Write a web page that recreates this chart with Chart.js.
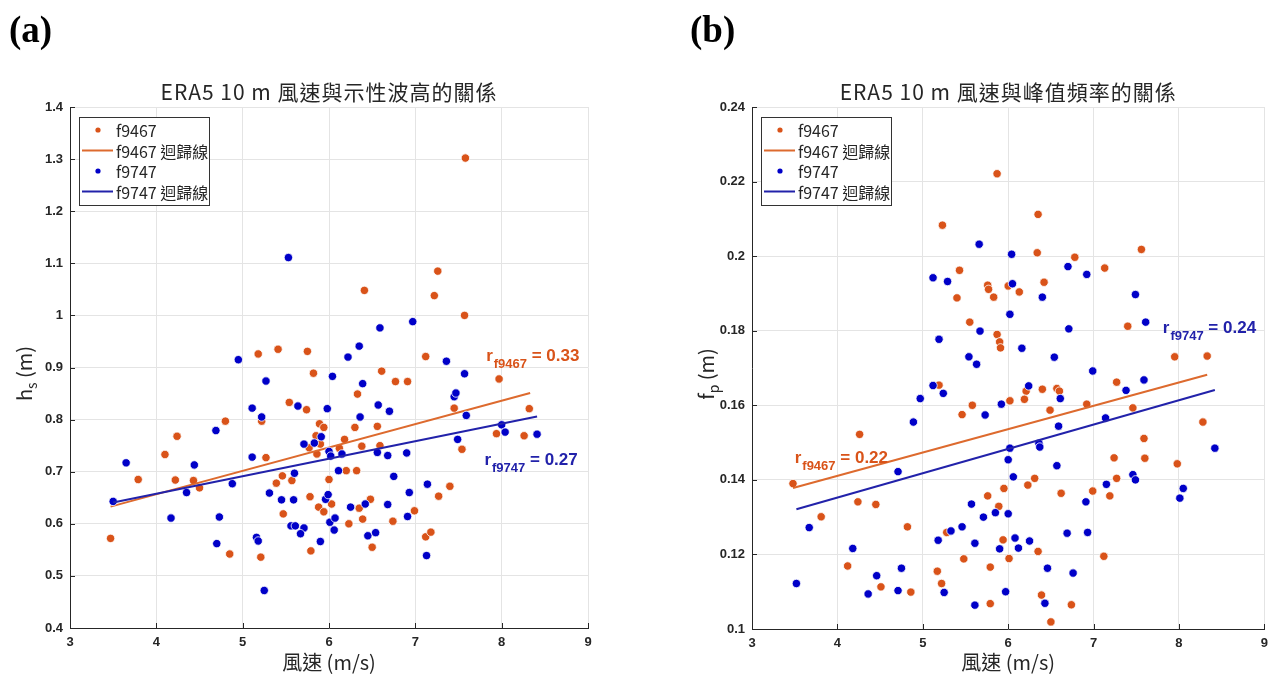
<!DOCTYPE html>
<html>
<head>
<meta charset="utf-8">
<script src="https://cdn.jsdelivr.net/npm/chart.js@4.4.1/dist/chart.umd.min.js"></script>
<style>
  html, body { margin: 0; padding: 0; background: #fff; }
  #wrap { position: relative; width: 1275px; height: 675px; }
  canvas { position: absolute; left: 0; top: 0; }
</style>
</head>
<body>
<div id="wrap">
  <canvas id="chartA" width="1275" height="675"></canvas>
  <canvas id="chartB" width="1275" height="675"></canvas>
</div>
<script>
// ---- (a) wind speed vs significant wave height ----
const windA_f9467 = [7.58,7.26,6.41,7.22,7.57, 5.18,5.41,5.75,5.54,5.74,5.22,4.80,4.24,4.10,3.79,4.22,4.43,4.50,5.27,5.46,5.39,5.57,5.47,5.78,
  3.47,4.85,5.21,5.79,5.88,5.94,6.00,6.03,6.23,6.35,6.39,6.48,6.50,6.74,6.99,7.12,7.18,7.27,7.40,
  7.12,7.97,5.82,6.61,6.77,6.91,6.33,7.45,8.32,5.89,5.94,6.30,6.56,7.94,8.26,7.54,5.85,5.90,5.77,6.18,6.38,6.59,6.12,5.86,6.20,6.32];
const hsA_f9467 = [1.302,1.085,1.048,1.038,1.000, 0.926,0.935,0.931,0.833,0.819,0.797,0.797,0.768,0.733,0.685,0.684,0.683,0.669,0.727,0.692,0.678,0.683,0.619,0.652,
  0.572,0.542,0.536,0.548,0.632,0.623,0.685,0.638,0.600,0.630,0.609,0.647,0.555,0.605,0.625,0.575,0.584,0.653,0.672,
  0.921,0.878,0.889,0.893,0.873,0.873,0.849,0.822,0.821,0.792,0.785,0.785,0.787,0.773,0.769,0.743,0.769,0.753,0.746,0.762,0.749,0.750,0.745,0.734,0.702,0.702];
const windA_f9747 = [5.53,6.97, 4.95,5.27,5.64,5.11,5.22,4.69,3.65,4.44,4.35,4.88,5.11,5.71,5.60,5.31,5.45,5.59,3.50,4.17,4.73,
  4.70,5.16,5.18,5.25,5.56,5.61,5.71,5.67,5.90,5.96,5.99,6.01,6.07,6.06,6.25,6.42,6.45,6.54,6.68,6.91,6.93,7.13,7.14,
  6.59,6.35,6.22,7.36,7.57,6.04,6.39,7.45,7.47,5.98,6.57,6.70,6.36,7.59,8.00,8.04,8.41,7.49,5.91,5.83,6.00,6.02,6.15,6.56,6.68,6.90,6.11,6.75];
const hsA_f9747 = [1.111,0.988, 0.915,0.874,0.826,0.822,0.805,0.779,0.717,0.713,0.660,0.677,0.728,0.753,0.697,0.659,0.646,0.646,0.643,0.611,0.613,
  0.562,0.574,0.567,0.472,0.596,0.596,0.592,0.581,0.566,0.647,0.656,0.603,0.611,0.588,0.632,0.638,0.577,0.583,0.637,0.614,0.660,0.539,0.676,
  0.976,0.941,0.920,0.912,0.888,0.883,0.869,0.844,0.851,0.821,0.828,0.816,0.805,0.808,0.790,0.776,0.772,0.762,0.767,0.755,0.739,0.730,0.734,0.737,0.731,0.736,0.702,0.691];
// regression line end points
const fitA_x_f9467 = [3.47, 8.33];
const fitA_y_f9467 = [0.633, 0.851];
const fitA_x_f9747 = [3.50, 8.41];
const fitA_y_f9747 = [0.641, 0.806];
const rA = ['0.33', '0.27'];

// ---- (b) wind speed vs peak frequency ----
const windB_f9467 = [5.87,6.35,5.23,6.34,6.78,7.56,7.13,5.43,5.76,5.77,6.00,6.42,5.40,5.83,6.13,
  7.40,5.87,5.90,5.91,7.95,8.33,7.27,6.21,6.40,6.57,6.60,6.02,6.19,6.92,7.46,6.49,8.28,7.59,7.24,7.60,7.98,6.31,7.27,5.95,6.23,6.62,6.99,7.19,5.76,
  5.55,5.19,5.58,5.46,4.26,3.48,
  3.81,4.24,4.45,4.82,4.12,4.51,4.86,5.28,5.48,5.17,5.22,5.89,5.94,6.01,5.79,6.35,5.79,6.39,6.50,6.74,7.12];
const fpB_f9467 = [0.2221,0.2112,0.2083,0.2009,0.1997,0.2018,0.1968,0.1962,0.1922,0.1911,0.1920,0.1930,0.1888,0.1890,0.1904,
  0.1812,0.1790,0.1770,0.1754,0.1730,0.1732,0.1662,0.1638,0.1643,0.1645,0.1638,0.1612,0.1616,0.1603,0.1593,0.1587,0.1555,0.1511,0.1459,0.1458,0.1443,0.1404,0.1404,0.1377,0.1386,0.1364,0.1370,0.1357,0.1357,
  0.1823,0.1654,0.1600,0.1575,0.1522,0.1390,
  0.1301,0.1341,0.1334,0.1274,0.1169,0.1113,0.1099,0.1259,0.1188,0.1155,0.1122,0.1329,0.1239,0.1189,0.1166,0.1208,0.1068,0.1091,0.1019,0.1065,0.1195];
const windB_f9747 = [5.12,5.66,6.04,6.70,6.92,5.29,6.05,6.40,7.49,
  6.02,5.67,6.71,7.61,6.16,6.54,5.63,6.99,7.59,7.38,6.24,6.61,5.92,5.73,7.14,6.59,6.02,6.36,6.37,8.42,6.00,6.57,6.06,7.46,7.49,7.15,8.05,8.01,
  5.19,5.54,5.12,5.24,4.97,4.89,4.71,
  3.67,3.52,4.18,4.46,4.36,4.75,4.71,5.18,5.33,5.46,5.25,5.57,5.71,5.85,6.00,5.61,5.90,6.08,6.12,6.25,6.46,6.76,5.61,5.97,6.43,6.69,6.93,6.91];
const fpB_f9747 = [0.1942,0.2032,0.2005,0.1972,0.1951,0.1932,0.1926,0.1890,0.1897,
  0.1844,0.1799,0.1805,0.1823,0.1753,0.1729,0.1710,0.1692,0.1668,0.1640,0.1652,0.1618,0.1603,0.1574,0.1566,0.1544,0.1485,0.1498,0.1488,0.1485,0.1454,0.1438,0.1408,0.1414,0.1400,0.1388,0.1377,0.1351,
  0.1777,0.1730,0.1653,0.1632,0.1618,0.1555,0.1422,
  0.1272,0.1122,0.1216,0.1143,0.1094,0.1163,0.1103,0.1238,0.1263,0.1274,0.1098,0.1335,0.1300,0.1312,0.1309,0.1230,0.1215,0.1244,0.1217,0.1236,0.1163,0.1150,0.1064,0.1100,0.1069,0.1257,0.1259,0.1341];
const fitB_x_f9467 = [3.48, 8.33];
const fitB_y_f9467 = [0.1378, 0.1682];
const fitB_x_f9747 = [3.52, 8.42];
const fitB_y_f9747 = [0.1321, 0.1641];
const rB = ['0.22', '0.24'];

const seriesNames = ['f9467', 'f9747'];
const fitSuffix = ' 迴歸線';

const ORANGE = '#D95319';
const ORANGE_LINE = '#DD6A2E';
const BLUE = '#0000C8';
const BLUE_LINE = '#2222AA';
const INK = '#262626';
const CJK = '"Noto Sans CJK TC", "Noto Sans", sans-serif';
const SANS = '"Liberation Sans", Arial, sans-serif';

function pairs(xs, ys) {
  return xs.map((v, i) => ({ x: v, y: ys[i] }));
}

// rotated axis title with a subscript, e.g. h_s (m)
function drawYTitle(ctx, cx, cy, main, sub, rest) {
  ctx.save();
  ctx.translate(cx, cy);
  ctx.rotate(-Math.PI / 2);
  ctx.fillStyle = INK;
  ctx.textBaseline = 'alphabetic';
  ctx.textAlign = 'left';
  const big = '20px ' + CJK, small = '14px ' + CJK;
  ctx.font = big; const w1 = ctx.measureText(main).width; const w3 = ctx.measureText(rest).width;
  ctx.font = small; const w2 = ctx.measureText(sub).width;
  let x0 = -(w1 + w2 + w3) / 2;
  ctx.font = big; ctx.fillText(main, x0, 6);
  ctx.font = small; ctx.fillText(sub, x0 + w1, 11);
  ctx.font = big; ctx.fillText(rest, x0 + w1 + w2, 6);
  ctx.restore();
}

// r_{name} = value note
function drawR(ctx, px, py, sub, val, color) {
  ctx.fillStyle = color;
  ctx.textAlign = 'left';
  ctx.textBaseline = 'alphabetic';
  ctx.font = 'bold 17px ' + SANS;
  ctx.fillText('r', px, py);
  let cx = px + ctx.measureText('r').width + 1;
  ctx.font = 'bold 13px ' + SANS;
  ctx.fillText(sub, cx, py + 7);
  cx += ctx.measureText(sub).width;
  ctx.font = 'bold 17px ' + SANS;
  ctx.fillText(' = ' + val, cx, py);
}

const decor = {
  id: 'decor',
  afterDraw(chart, args, o) {
    const { ctx, chartArea: a, scales: { x, y } } = chart;
    ctx.save();

    // inward tick marks on the left and bottom axes
    ctx.strokeStyle = INK;
    ctx.lineWidth = 1;
    ctx.beginPath();
    x.ticks.forEach(t => {
      const px = Math.round(x.getPixelForValue(t.value)) + 0.5;
      ctx.moveTo(px, a.bottom); ctx.lineTo(px, a.bottom - 5);
    });
    y.ticks.forEach(t => {
      const py = Math.round(y.getPixelForValue(t.value)) + 0.5;
      ctx.moveTo(a.left, py); ctx.lineTo(a.left + 5, py);
    });
    ctx.stroke();

    const midX = (a.left + a.right) / 2;

    // panel letter
    ctx.fillStyle = '#000';
    ctx.font = 'bold 37px "Liberation Serif", "Times New Roman", serif';
    ctx.textAlign = 'left';
    ctx.textBaseline = 'alphabetic';
    ctx.fillText(o.panel, o.panelX, 42);

    // title
    ctx.fillStyle = INK;
    ctx.font = '21px ' + CJK;
    ctx.letterSpacing = '1px';
    ctx.textAlign = 'center';
    ctx.textBaseline = 'middle';
    ctx.fillText(o.title, midX, 92);
    ctx.letterSpacing = '0px';

    // x axis title
    ctx.font = '20px ' + CJK;
    ctx.fillText(o.xTitle, midX, 662);

    // y axis title
    drawYTitle(ctx, a.left - 44, (a.top + a.bottom) / 2 + 6, o.yTitle[0], o.yTitle[1], o.yTitle[2]);

    // legend box
    const lx = a.left + 9, ly = a.top + 10, lw = 130, lh = 88;
    ctx.fillStyle = '#fff';
    ctx.fillRect(lx, ly, lw, lh);
    ctx.strokeStyle = '#333';
    ctx.lineWidth = 1;
    ctx.strokeRect(lx + 0.5, ly + 0.5, lw, lh);
    const rows = [
      { kind: 'dot', color: ORANGE, text: seriesNames[0] },
      { kind: 'line', color: ORANGE_LINE, text: seriesNames[0] + fitSuffix },
      { kind: 'dot', color: BLUE, text: seriesNames[1] },
      { kind: 'line', color: BLUE_LINE, text: seriesNames[1] + fitSuffix }
    ];
    ctx.font = '16px ' + CJK;
    ctx.textAlign = 'left';
    ctx.textBaseline = 'middle';
    rows.forEach((r, i) => {
      const ry = ly + 13 + i * 20.5;
      if (r.kind === 'dot') {
        ctx.fillStyle = r.color;
        ctx.beginPath(); ctx.arc(lx + 19, ry, 2.6, 0, Math.PI * 2); ctx.fill();
      } else {
        ctx.strokeStyle = r.color; ctx.lineWidth = 2;
        ctx.beginPath(); ctx.moveTo(lx + 3, ry); ctx.lineTo(lx + 34, ry); ctx.stroke();
      }
      ctx.fillStyle = INK;
      ctx.fillText(r.text, lx + 37, ry + 1);
    });

    // correlation notes
    o.notes.forEach(n => {
      drawR(ctx, x.getPixelForValue(n.x), y.getPixelForValue(n.y), n.sub, n.val, n.color);
    });
    ctx.restore();
  }
};

function makeChart(id, cfg) {
  return new Chart(document.getElementById(id), {
    type: 'scatter',
    data: {
      datasets: [
        { label: seriesNames[0], data: pairs(cfg.x1, cfg.y1), backgroundColor: ORANGE, borderColor: '#fff', borderWidth: 0.8, pointRadius: 4.2, order: 4 },
        { type: 'line', label: seriesNames[0] + fitSuffix, data: pairs(cfg.fx1, cfg.fy1), borderColor: ORANGE_LINE, borderWidth: 2, pointRadius: 0, order: 3 },
        { label: seriesNames[1], data: pairs(cfg.x2, cfg.y2), backgroundColor: BLUE, borderColor: '#fff', borderWidth: 0.8, pointRadius: 4.2, order: 2 },
        { type: 'line', label: seriesNames[1] + fitSuffix, data: pairs(cfg.fx2, cfg.fy2), borderColor: BLUE_LINE, borderWidth: 2, pointRadius: 0, order: 1 }
      ]
    },
    options: {
      responsive: false,
      animation: false,
      layout: { padding: { left: cfg.padLeft, right: cfg.padRight, top: 107, bottom: 0 } },
      plugins: {
        legend: { display: false },
        tooltip: { enabled: false },
        decor: cfg.decor
      },
      scales: {
        x: {
          type: 'linear', min: 3, max: 9,
          ticks: { stepSize: 1, padding: 7, color: INK, font: { family: SANS, size: 13, weight: 'bold' } },
          grid: { color: '#e4e4e4', drawTicks: false },
          border: { color: INK, width: 1 },
          afterFit: s => { s.height = cfg.xHeight; }
        },
        y: {
          type: 'linear', min: cfg.yMin, max: cfg.yMax,
          ticks: { stepSize: cfg.yStep, padding: 7, color: INK, font: { family: SANS, size: 13, weight: 'bold' },
            callback: v => String(parseFloat(v.toFixed(3))) },
          grid: { color: '#e4e4e4', drawTicks: false },
          border: { color: INK, width: 1 },
          afterFit: s => { s.width = 70; }
        }
      }
    },
    plugins: [decor]
  });
}

makeChart('chartA', {
  x1: windA_f9467, y1: hsA_f9467, x2: windA_f9747, y2: hsA_f9747,
  fx1: fitA_x_f9467, fy1: fitA_y_f9467, fx2: fitA_x_f9747, fy2: fitA_y_f9747,
  yMin: 0.4, yMax: 1.4, yStep: 0.1,
  padLeft: 0, padRight: 687, xHeight: 47,
  decor: {
    panel: '(a)', panelX: 9,
    title: 'ERA5 10 m 風速與示性波高的關係',
    xTitle: '風速 (m/s)',
    yTitle: ['h', 's', ' (m)'],
    notes: [
      { x: 7.82, y: 0.912, sub: seriesNames[0], val: rA[0], color: ORANGE },
      { x: 7.80, y: 0.713, sub: seriesNames[1], val: rA[1], color: BLUE_LINE }
    ]
  }
});

makeChart('chartB', {
  x1: windB_f9467, y1: fpB_f9467, x2: windB_f9747, y2: fpB_f9747,
  fx1: fitB_x_f9467, fy1: fitB_y_f9467, fx2: fitB_x_f9747, fy2: fitB_y_f9747,
  yMin: 0.1, yMax: 0.24, yStep: 0.02,
  padLeft: 682, padRight: 4, xHeight: 46,
  decor: {
    panel: '(b)', panelX: 690,
    title: 'ERA5 10 m 風速與峰值頻率的關係',
    xTitle: '風速 (m/s)',
    yTitle: ['f', 'p', ' (m)'],
    notes: [
      { x: 3.50, y: 0.1444, sub: seriesNames[0], val: rB[0], color: ORANGE },
      { x: 7.81, y: 0.1795, sub: seriesNames[1], val: rB[1], color: BLUE_LINE }
    ]
  }
});
</script>
</body>
</html>
